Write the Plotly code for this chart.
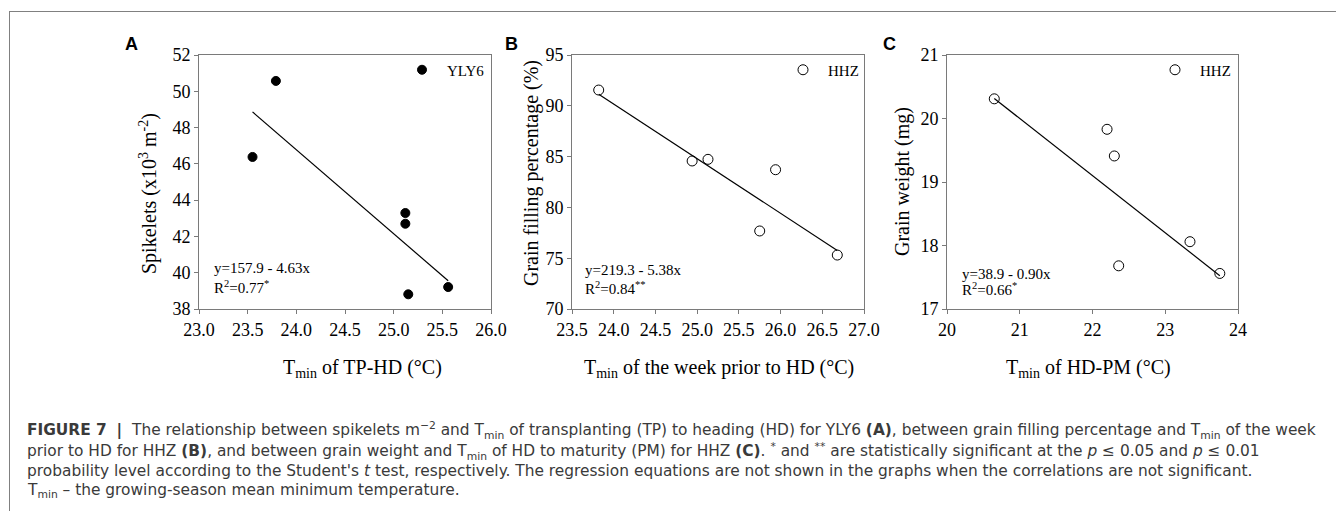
import plotly.graph_objects as go

# page body has an 8px margin; figure fits inside the 1344x519 window
OFF = 8
W, H = 1344 - 2 * OFF, 519 - 2 * OFF

# ---- data ----
A_x = [23.55, 23.79, 25.12, 25.12, 25.15, 25.56]
A_y = [46.38, 50.57, 43.29, 42.70, 38.81, 39.21]
B_x = [23.82, 24.94, 25.13, 25.75, 25.94, 26.68]
B_y = [91.55, 84.57, 84.73, 77.68, 83.71, 75.31]
C_x = [20.65, 22.20, 22.30, 22.36, 23.34, 23.75]
C_y = [20.31, 19.83, 19.41, 17.68, 18.06, 17.56]

intercepts = [157.9, 219.3, 38.9]
slopes = [-4.63, -5.38, -0.90]
r2_vals = ["0.77", "0.84", "0.66"]
r2_stars = ["*", "**", "*"]
series_names = ["YLY6", "HHZ", "HHZ"]
panel_letters = ["A", "B", "C"]

x_titles = ["T<sub>min</sub> of TP-HD (°C)",
            "T<sub>min</sub> of the week prior to HD (°C)",
            "T<sub>min</sub> of HD-PM (°C)"]
y_titles = ["Spikelets (x10<sup>3</sup> m<sup>-2</sup>)",
            "Grain filling percentage (%)",
            "Grain weight (mg)"]
x_ranges = [[23.0, 26.0], [23.5, 27.0], [20, 24]]
y_ranges = [[38, 52], [70, 95], [17, 21]]
x_dticks = [0.5, 0.5, 1]
y_dticks = [2, 5, 1]
x_formats = [".1f", ".1f", "d"]

caption_lines = [
    "<b>FIGURE 7</b>  <b>|</b>  The relationship between spikelets m<sup>−2</sup> and T<sub>min</sub> of transplanting (TP) to heading (HD) for YLY6 <b>(A)</b>, between grain filling percentage and T<sub>min</sub> of the week",
    "prior to HD for HHZ <b>(B)</b>, and between grain weight and T<sub>min</sub> of HD to maturity (PM) for HHZ <b>(C)</b>. <sup>*</sup> and <sup>**</sup> are statistically significant at the <i>p</i> ≤ 0.05 and <i>p</i> ≤ 0.01",
    "probability level according to the Student's <i>t</i> test, respectively. The regression equations are not shown in the graphs when the correlations are not significant.",
    "T<sub>min</sub> – the growing-season mean minimum temperature.",
]

# ---- layout geometry (window pixels) ----
plot_px = [(199, 491), (572, 864), (947, 1238)]
plot_top, plot_bot = 55, 309
SERIF = "Liberation Serif, Times New Roman, serif"
SANS = "Liberation Sans, Arial, sans-serif"
CAPFONT = "DejaVu Sans, Liberation Sans, sans-serif"
AXC = "#7a7a7a"

def px(x):
    return (x - OFF) / W

def py(y):
    return 1 - (y - OFF) / H

xs = [A_x, B_x, C_x]
ys = [A_y, B_y, C_y]
filled = [True, False, False]

fig = go.Figure()
legend_names = ["legend", "legend2", "legend3"]

for i in range(3):
    xa = "x" if i == 0 else f"x{i+1}"
    ya = "y" if i == 0 else f"y{i+1}"
    if filled[i]:
        mk = dict(size=9, color="black", line=dict(color="black", width=1))
    else:
        mk = dict(size=10, color="black", symbol="circle-open", line=dict(width=1))
    fig.add_trace(go.Scatter(x=xs[i], y=ys[i], mode="markers", marker=mk,
                             name=series_names[i], xaxis=xa, yaxis=ya,
                             legend=legend_names[i], showlegend=True))
    lx = [min(xs[i]), max(xs[i])]
    ly = [intercepts[i] + slopes[i] * v for v in lx]
    fig.add_trace(go.Scatter(x=lx, y=ly, mode="lines", line=dict(color="black", width=1.2),
                             xaxis=xa, yaxis=ya, showlegend=False, hoverinfo="skip"))

layout = dict(width=W, height=H, margin=dict(l=0, r=0, t=0, b=0, autoexpand=False),
              paper_bgcolor="white", plot_bgcolor="white", showlegend=True)

for i in range(3):
    xk = "xaxis" if i == 0 else f"xaxis{i+1}"
    yk = "yaxis" if i == 0 else f"yaxis{i+1}"
    xa_anchor = "y" if i == 0 else f"y{i+1}"
    ya_anchor = "x" if i == 0 else f"x{i+1}"
    l, r = plot_px[i]
    layout[xk] = dict(domain=[px(l), px(r)], anchor=xa_anchor, range=x_ranges[i],
                      dtick=x_dticks[i], tick0=x_ranges[i][0], tickformat=x_formats[i],
                      showline=True, linecolor=AXC, linewidth=1, mirror=True, automargin=False,
                      ticks="outside", ticklen=4, tickcolor=AXC, showgrid=False, zeroline=False,
                      tickfont=dict(family=SERIF, size=18, color="black"))
    layout[yk] = dict(domain=[py(plot_bot), py(plot_top)], anchor=ya_anchor, range=y_ranges[i],
                      dtick=y_dticks[i], tick0=y_ranges[i][0], automargin=False,
                      showline=True, linecolor=AXC, linewidth=1, mirror=True,
                      ticks="outside", ticklen=4, tickcolor=AXC, showgrid=False, zeroline=False,
                      tickfont=dict(family=SERIF, size=18, color="black"))

leg_marker_px = [(417, 70), (798, 70), (1170, 70)]
for i in range(3):
    mx, my = leg_marker_px[i]
    layout[legend_names[i]] = dict(x=px(mx - 20), y=py(my), xanchor="left", yanchor="middle",
                                   bgcolor="rgba(0,0,0,0)", borderwidth=0, itemwidth=40,
                                   font=dict(family=SERIF, size=15, color="black"))

fig.update_layout(**layout)

annotations = []

# axis titles
ytitle_pos = [(148, 194), (531, 173), (902, 182)]
xtitle_pos = [(362, 368), (719, 368), (1088, 368)]
for i in range(3):
    tx, ty = ytitle_pos[i]
    annotations.append(dict(x=px(tx), y=py(ty), xref="paper", yref="paper", xanchor="center",
                            yanchor="middle", showarrow=False, textangle=-90, text=y_titles[i],
                            font=dict(family=SERIF, size=20, color="black")))
    tx, ty = xtitle_pos[i]
    annotations.append(dict(x=px(tx), y=py(ty), xref="paper", yref="paper", xanchor="center",
                            yanchor="middle", showarrow=False, text=x_titles[i],
                            font=dict(family=SERIF, size=20, color="black")))

eq_pos = [(212, 268, 287), (583, 270, 288), (960, 274, 289)]
for i in range(3):
    ex, ey1, ey2 = eq_pos[i]
    sign = "-" if slopes[i] < 0 else "+"
    annotations.append(dict(x=px(ex), y=py(ey1), xref="paper", yref="paper", xanchor="left",
                            yanchor="middle", showarrow=False,
                            text=f"y={intercepts[i]:.1f} {sign} {abs(slopes[i]):.2f}x",
                            font=dict(family=SERIF, size=15, color="black")))
    annotations.append(dict(x=px(ex), y=py(ey2), xref="paper", yref="paper", xanchor="left",
                            yanchor="middle", showarrow=False,
                            text=f"R<sup>2</sup>={r2_vals[i]}<sup>{r2_stars[i]}</sup>",
                            font=dict(family=SERIF, size=15, color="black")))

letter_pos = [(131, 44), (511, 44), (889, 44)]
for i in range(3):
    lx_, ly_ = letter_pos[i]
    annotations.append(dict(x=px(lx_), y=py(ly_), xref="paper", yref="paper", xanchor="center",
                            yanchor="middle", showarrow=False, text=f"<b>{panel_letters[i]}</b>",
                            font=dict(family=SANS, size=18, color="black")))

cap_y = [430, 451, 471, 491]
for i, t in enumerate(caption_lines):
    annotations.append(dict(x=px(25), y=py(cap_y[i]), xref="paper", yref="paper", xanchor="left",
                            yanchor="middle", showarrow=False, text=t, align="left",
                            font=dict(family=CAPFONT, size=15.4, color="#3a3a3a")))

fig.update_layout(annotations=annotations)

# outer frame (top and left edges) drawn as thin filled strips
fig.add_shape(type="rect", xref="paper", yref="paper", x0=px(9), x1=1.0, y0=py(12), y1=py(11),
              fillcolor="#808080", line=dict(width=0), layer="above")
fig.add_shape(type="rect", xref="paper", yref="paper", x0=px(9), x1=px(10), y0=0, y1=py(11),
              fillcolor="#808080", line=dict(width=0), layer="above")

fig.write_html("out.html")
